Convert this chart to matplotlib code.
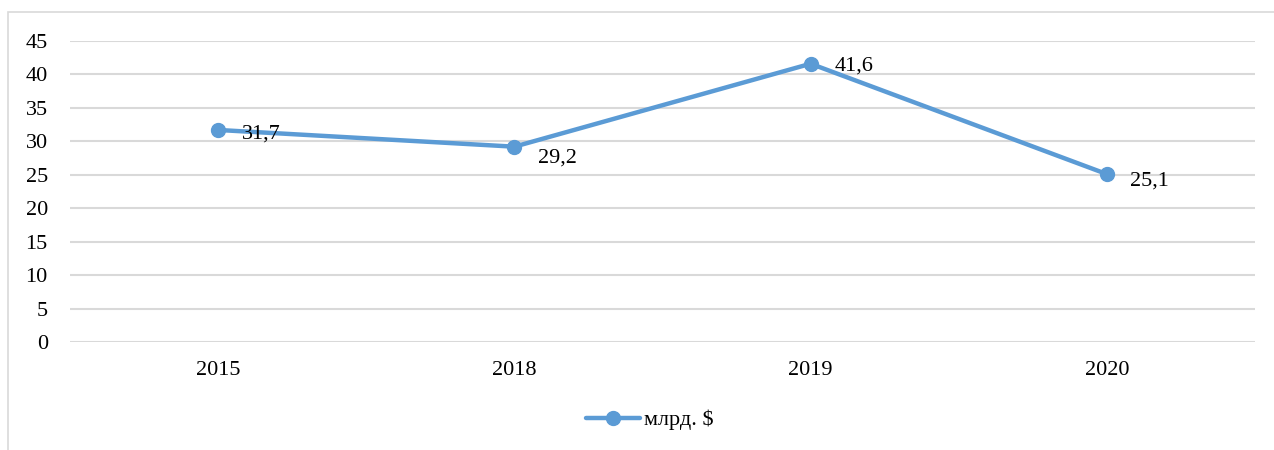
import matplotlib.pyplot as plt
from matplotlib.patches import Rectangle

years = ['2015', '2018', '2019', '2020']
values = [31.7, 29.2, 41.6, 25.1]
labels = ['31,7', '29,2', '41,6', '25,1']
series_name = 'млрд. $'
yticks = [0, 5, 10, 15, 20, 25, 30, 35, 40, 45]

blue = '#5B9BD5'
grid = '#D9D9D9'

plt.rcParams['font.family'] = ['Liberation Serif', 'DejaVu Serif']

fig = plt.figure(figsize=(12.74, 4.5), dpi=100)
ax = fig.add_axes([70/1274, 1-342/450, (1255-70)/1274, (342-41)/450])

# chart frame (left and top edges visible)
fig.patches.append(Rectangle((8/1274, -0.1), 1.2, 1-12/450+0.1, transform=fig.transFigure,
                             fill=False, edgecolor=grid, linewidth=1.2))

xs = range(len(years))
ax.plot(xs, values, color=blue, linewidth=3.2, marker='o', markersize=10,
        solid_capstyle='round', label=series_name, zorder=3)

dys = [-3, -8, -2, -5]
for x, v, t, dy in zip(xs, values, labels, dys):
    ax.annotate(t, (x, v), xytext=(17, dy), textcoords='offset points',
                ha='left', va='center', fontsize=16, color='#000000', zorder=4)

ax.set_xlim(-0.5, len(years)-0.5)
ax.set_ylim(0, 45)
ax.set_yticks(yticks)
ax.set_xticks(list(xs))
ax.set_xticklabels(years)
ax.tick_params(axis='both', length=0, labelsize=16, colors='#000000')
ax.tick_params(axis='y', pad=16)
ax.tick_params(axis='x', pad=14)
ax.yaxis.grid(True, color=grid, linewidth=1.5)
ax.set_axisbelow(True)
for s in ax.spines.values():
    s.set_visible(False)

fig.legend(loc='center', bbox_to_anchor=(650/1274, 1-420/450), frameon=False,
           fontsize=16, handlelength=2.4, handletextpad=0.2)

fig.savefig('out.png', dpi=100)
